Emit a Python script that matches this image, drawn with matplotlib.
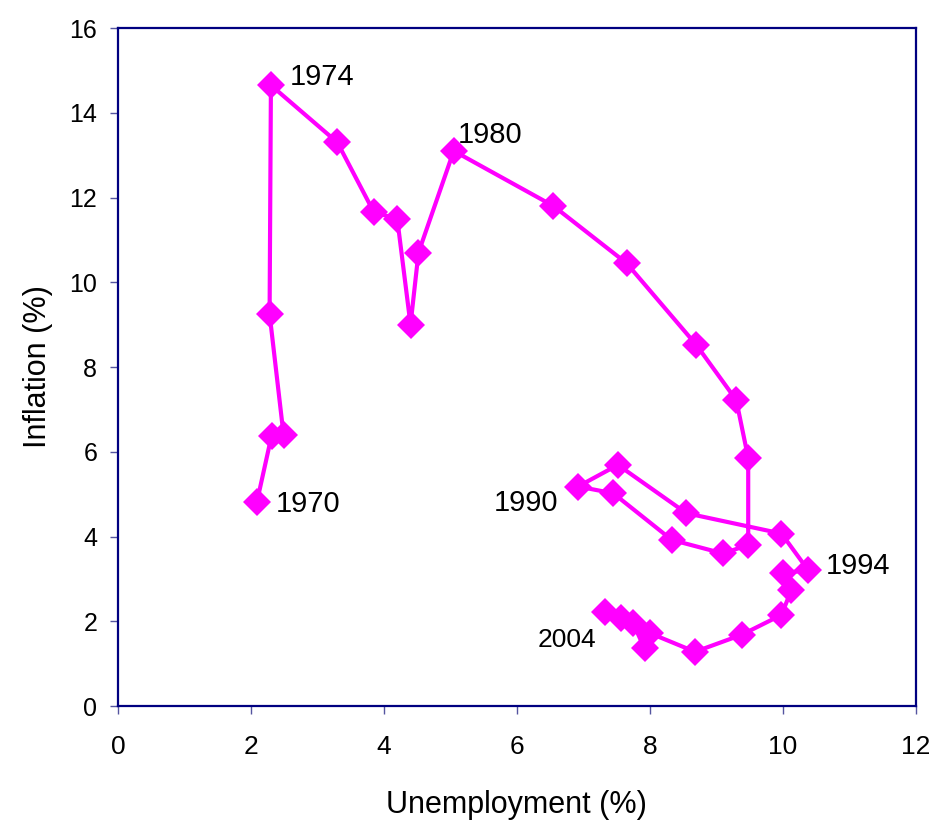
import matplotlib
matplotlib.use("Agg")
import matplotlib.pyplot as plt

plt.rcParams['font.family'] = ['Liberation Sans', 'DejaVu Sans']

# dados, 1970 a 2004
anos = list(range(1970, 2005))
desemprego = [2.09, 2.31, 2.49, 2.28, 2.30, 3.30, 3.85, 4.20, 4.40, 4.52,
              5.05, 6.55, 7.65, 8.70, 9.30, 9.48, 9.48, 9.10, 8.33, 7.45,
              6.92, 7.52, 8.55, 9.98, 10.38, 10.00, 10.13, 9.98, 9.38, 8.68,
              8.00, 7.92, 7.75, 7.57, 7.32]
inflacao = [4.82, 6.38, 6.40, 9.25, 14.65, 13.30, 11.65, 11.50, 9.00, 10.70,
            13.10, 11.80, 10.45, 8.52, 7.22, 5.85, 3.80, 3.60, 3.92, 5.02,
            5.18, 5.69, 4.55, 4.07, 3.21, 3.13, 2.74, 2.15, 1.68, 1.28,
            1.72, 1.36, 1.95, 2.07, 2.23]

# anos com rótulo e onde o texto fica
rotulos = [1970, 1974, 1980, 1990, 1994, 2004]
pos_rotulo = {1970: (2.38, 4.77, 'left', 21), 1974: (2.59, 14.84, 'left', 21),
              1980: (5.11, 13.47, 'left', 21), 1990: (6.62, 4.79, 'right', 21),
              1994: (10.65, 3.30, 'left', 21), 2004: (7.2, 1.56, 'right', 19)}

fig = plt.figure(figsize=(9.33, 8.22), dpi=100)
ax = fig.add_axes([0.1265, 0.1411, 0.855, 0.8248])

ax.plot(desemprego, inflacao, color='#FF00FF', linewidth=3, marker='D',
        markersize=14, markeredgewidth=0, zorder=3)

for ano in rotulos:
    x, y, ha, tam = pos_rotulo[ano]
    ax.text(x, y, str(ano), ha=ha, va='center', fontsize=tam)

ax.set_xlim(0, 12)
ax.set_ylim(0, 16)
ax.set_xticks(range(0, 13, 2))
ax.set_yticks(range(0, 17, 2))
ax.set_xlabel("Unemployment (%)", fontsize=22, labelpad=22)
ax.set_ylabel("Inflation (%)", fontsize=22, labelpad=12)

for lado in ax.spines.values():
    lado.set_color('#000080')
    lado.set_linewidth(1.6)
ax.tick_params(axis='both', direction='out', length=6, color='#5555a0',
               width=1, labelsize=18)
ax.tick_params(axis='x', pad=15, labelsize=19)
ax.tick_params(axis='y', pad=9)

fig.savefig("out.png", dpi=100)
